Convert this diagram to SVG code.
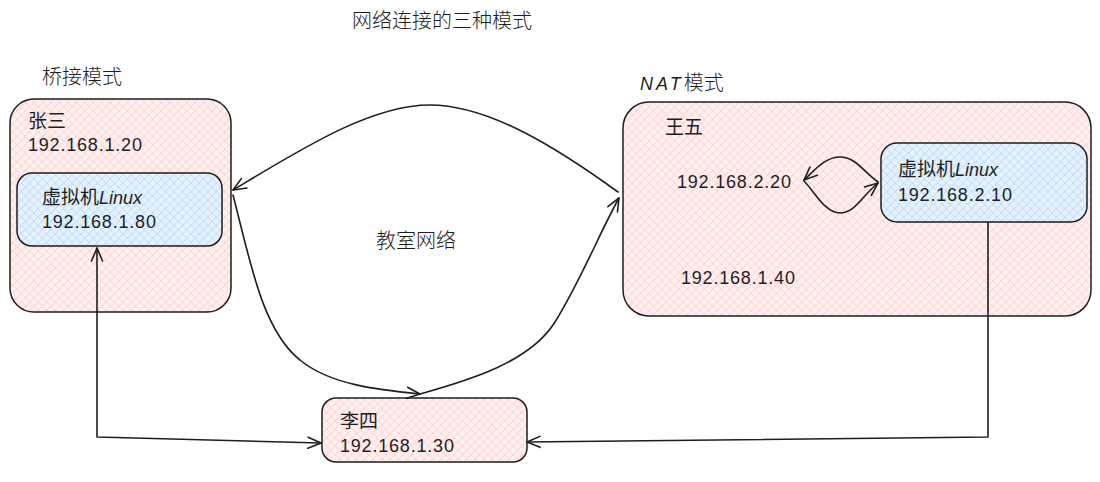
<svg xmlns="http://www.w3.org/2000/svg" width="1100" height="482" viewBox="0 0 1100 482">
<style>
.t{font-family:"Noto Sans CJK SC","Noto Sans",sans-serif;font-size:20px;fill:#1e1e1e;font-weight:300}
.h{font-family:"Noto Sans CJK SC","Liberation Sans",sans-serif;font-size:19px;fill:#1e1e1e}
.n{font-family:"Liberation Sans","Noto Sans CJK SC",sans-serif;font-size:18px;fill:#1e1e1e;letter-spacing:0.8px}
.box{stroke:#1e1e1e;stroke-width:1.5}
.c{fill:none;stroke:#1e1e1e;stroke-width:1.6;stroke-linecap:round;stroke-linejoin:round}
</style>
<defs>
<pattern id="pink" width="6" height="6" patternUnits="userSpaceOnUse" patternTransform="rotate(45)">
<rect width="6" height="6" fill="#fff0f0"/>
<path d="M0 0 L0 6 M0 0 L6 0" stroke="#ffc2c2" stroke-width="1.2"/>
</pattern>
<pattern id="blue" width="6" height="6" patternUnits="userSpaceOnUse" patternTransform="rotate(45)">
<rect width="6" height="6" fill="#e6f2fd"/>
<path d="M0 0 L0 6 M0 0 L6 0" stroke="#a9d4fa" stroke-width="1.2"/>
</pattern>
<marker id="ah" viewBox="-14 -7 16 14" markerWidth="16" markerHeight="14" refX="0" refY="0" orient="auto-start-reverse" markerUnits="userSpaceOnUse">
<path d="M-13 -5.5 L0 0 L-13 5.5" fill="none" stroke="#1e1e1e" stroke-width="1.6" stroke-linecap="round" stroke-linejoin="round"/>
</marker>
</defs>
<rect width="1100" height="482" fill="#ffffff"/>

<text class="t" x="352" y="28">网络连接的三种模式</text>
<text class="t" x="42" y="84">桥接模式</text>
<text class="t" x="640" y="90"><tspan font-family="Liberation Sans" font-style="italic" font-size="18" letter-spacing="3">NAT</tspan>模式</text>
<text class="t" x="376" y="248">教室网络</text>

<g id="zhangsan">
<rect class="box" x="10" y="99" width="221" height="213" rx="24" fill="url(#pink)"/>
<text class="h" x="28" y="128">张三</text>
<text class="n" x="28" y="151">192.168.1.20</text>
</g>
<g id="zhangsan-vm">
<rect class="box" x="17" y="173" width="205" height="73" rx="15" fill="url(#blue)"/>
<text class="h" x="42" y="204">虚拟机<tspan font-family="Liberation Sans" font-style="italic" font-size="18">Linux</tspan></text>
<text class="n" x="42" y="228">192.168.1.80</text>
</g>

<g id="wangwu">
<rect class="box" x="623" y="102" width="468" height="214" rx="26" fill="url(#pink)"/>
<text class="h" x="665" y="134">王五</text>
<text class="n" x="677" y="188">192.168.2.20</text>
<text class="n" x="681" y="284">192.168.1.40</text>
</g>
<g id="wangwu-vm">
<rect class="box" x="881" y="143" width="206" height="79" rx="16" fill="url(#blue)"/>
<text class="h" x="898" y="176">虚拟机<tspan font-family="Liberation Sans" font-style="italic" font-size="18">Linux</tspan></text>
<text class="n" x="898" y="201">192.168.2.10</text>
</g>

<g id="lisi">
<rect class="box" x="322" y="398" width="205" height="64" rx="14" fill="url(#pink)"/>
<text class="h" x="340" y="428">李四</text>
<text class="n" x="340" y="452">192.168.1.30</text>
</g>

<g id="connectors">
<path class="c" d="M618 192 C560 150 490 105 430 105 C370 105 300 150 233 190" marker-end="url(#ah)"/>
<path class="c" d="M233 195 C250 260 262 330 300 360 C330 385 380 390 420 394" marker-end="url(#ah)"/>
<path class="c" d="M420 394 C470 380 530 362 555 322 C580 282 600 232 619 198" marker-end="url(#ah)"/>
<path class="c" d="M97 248 L97 437 L321 443" marker-start="url(#ah)" marker-end="url(#ah)"/>
<path class="c" d="M988 222 L988 437 L527 442" marker-end="url(#ah)"/>
<path class="c" d="M878 182 C862 170 855 157 840 157 C825 157 815 170 804 180" marker-end="url(#ah)"/>
<path class="c" d="M804 181 C815 192 825 213 840 213 C855 213 862 196 878 183" marker-end="url(#ah)"/>
</g>
</svg>
